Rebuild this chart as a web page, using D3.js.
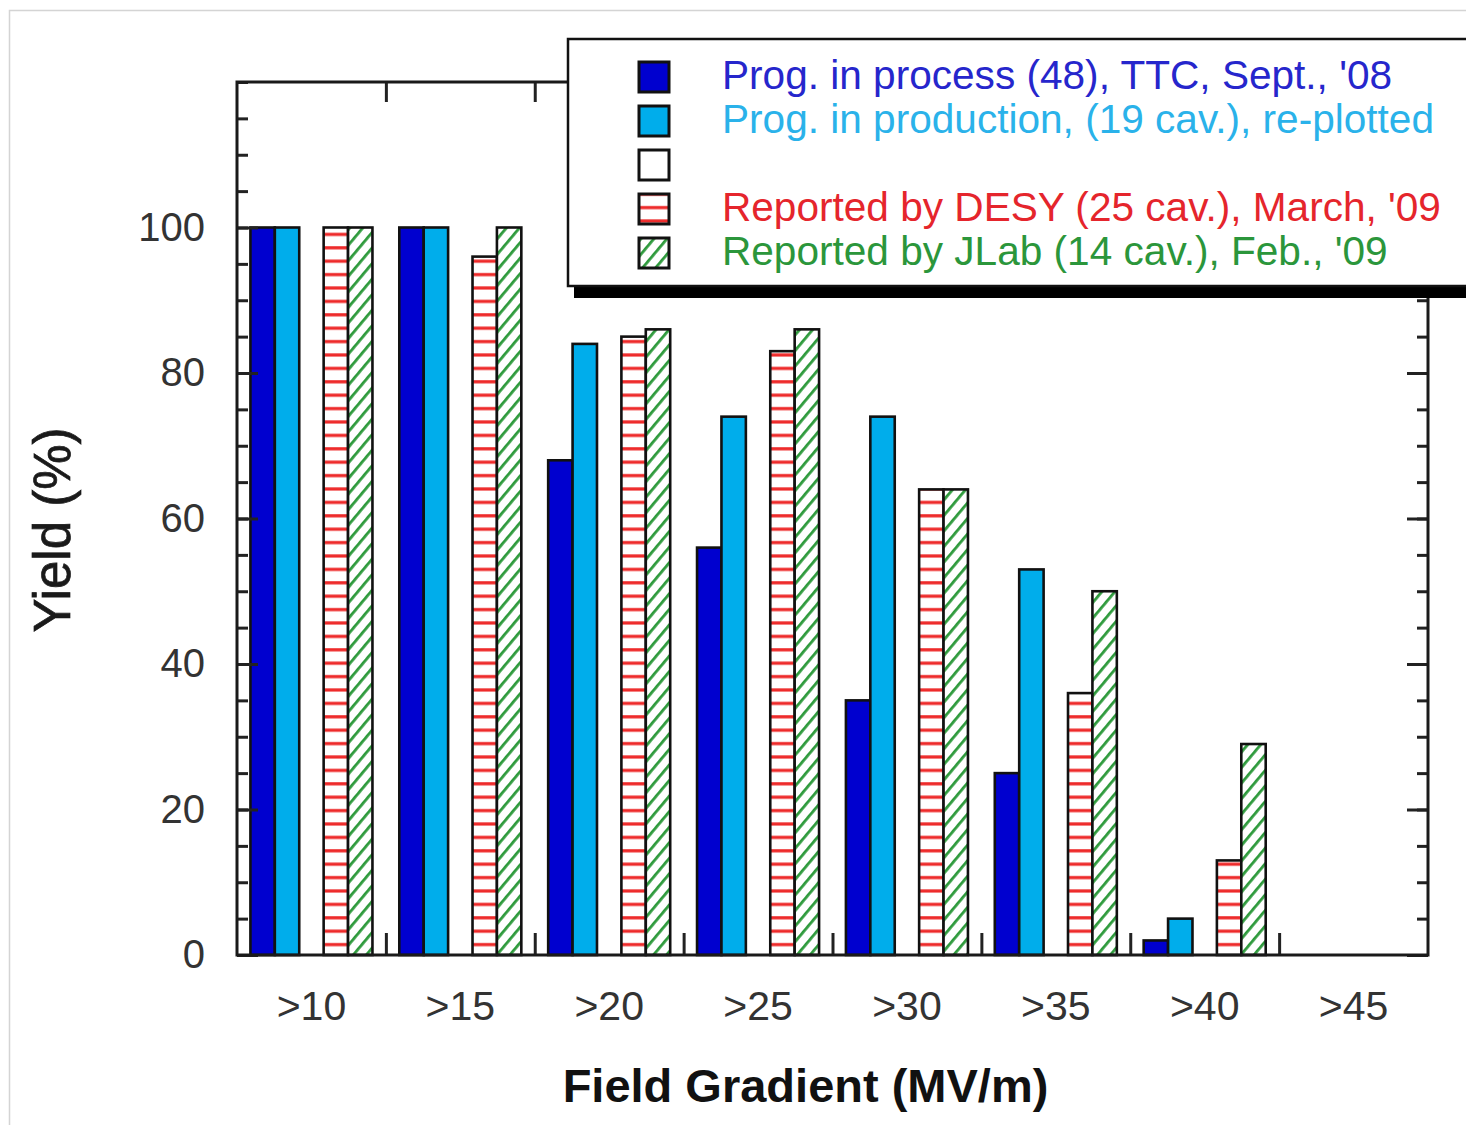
<!DOCTYPE html>
<html>
<head>
<meta charset="utf-8">
<script src="https://cdn.jsdelivr.net/npm/d3@7"></script>
<style>
  body { margin: 0; background: #ffffff; }
  svg { display: block; font-family: "Liberation Sans", Arial, Helvetica, sans-serif; }
</style>
</head>
<body>
<svg id="chart" width="1466" height="1125"></svg>
<script>
// categories and series values
const categories = [">10", ">15", ">20", ">25", ">30", ">35", ">40", ">45"];
const seriesKeys = ["process", "production", "blank", "desy", "jlab"];
const seriesLabels = [
    "Prog. in process (48), TTC, Sept., '08",
    "Prog. in production, (19 cav.), re-plotted",
    "",
    "Reported by DESY (25 cav.), March, '09",
    "Reported by JLab (14 cav.), Feb., '09"
];
const processYield = [100, 100, 68, 56, 35, 25, 2, 0];
const productionYield = [100, 100, 84, 74, 74, 53, 5, 0];
const blankYield = [0, 0, 0, 0, 0, 0, 0, 0];
const desyYield = [100, 96, 85, 83, 64, 36, 13, 0];
const jlabYield = [100, 100, 86, 86, 64, 50, 29, 0];
const yMajorTicks = [0, 20, 40, 60, 80, 100];

const svg = d3.select("#chart");
const plotLeft = 237, plotRight = 1428, plotTop = 82, plotBottom = 955;

const valuesBySeries = {
    process: processYield,
    production: productionYield,
    blank: blankYield,
    desy: desyYield,
    jlab: jlabYield
};
const fills = {
    process: "#0000cf",
    production: "#00adeb",
    blank: "#ffffff",
    desy: "url(#stripes)",
    jlab: "url(#hatch)"
};
const textColors = ["#2626cc", "#2ab2ea", "#000", "#e5252c", "#2b963b"];

// patterns
const defs = svg.append("defs");
let stripes = defs.append("pattern")
    .attr("id", "stripes")
    .attr("patternUnits", "userSpaceOnUse")
    .attr("width", 10).attr("height", 13.4);
stripes.append("rect").attr("width", 10).attr("height", 13.4).attr("fill", "#fff");
stripes.append("rect").attr("y", 5).attr("width", 10).attr("height", 3.2).attr("fill", "#ee2a2a");

let hatch = defs.append("pattern")
    .attr("id", "hatch")
    .attr("patternUnits", "userSpaceOnUse")
    .attr("width", 10).attr("height", 10)
    .attr("patternTransform", "rotate(40)");
hatch.append("rect").attr("width", 10).attr("height", 10).attr("fill", "#fff");
hatch.append("rect").attr("x", 3).attr("width", 2.8).attr("height", 10).attr("fill", "#2e9a3c");

// light frame of the slide
svg.append("rect")
    .attr("x", 9.5).attr("y", 10.5)
    .attr("width", 1500).attr("height", 1200)
    .attr("fill", "none").attr("stroke", "#d4d4d4").attr("stroke-width", 1.5);

// scales
let x = d3.scaleBand().domain(categories).range([plotLeft, plotRight]).padding(0);
let xs = d3.scaleBand().domain(seriesKeys).range([0, x.bandwidth()]).paddingInner(0).paddingOuter(0.55);
let y = d3.scaleLinear().domain([0, 120]).range([plotBottom, plotTop]);
let xb = d3.scaleLinear().domain([0, categories.length]).range([plotLeft, plotRight]);

// bars
const rows = [];
categories.forEach(function (c, i) {
    seriesKeys.forEach(function (k) {
        rows.push({ cat: c, key: k, value: valuesBySeries[k][i] });
    });
});

svg.append("g")
    .selectAll("rect")
    .data(rows.filter(function (d) { return d.value > 0; }))
    .enter()
    .append("rect")
    .attr("x", function (d) { return x(d.cat) + xs(d.key); })
    .attr("y", function (d) { return y(d.value); })
    .attr("width", xs.bandwidth())
    .attr("height", function (d) { return y(0) - y(d.value); })
    .attr("fill", function (d) { return fills[d.key]; })
    .attr("stroke", "#111")
    .attr("stroke-width", 2.6);

// axes
function styleAxis(g) {
    g.select(".domain").remove();
    g.selectAll(".tick line").attr("stroke", "#222").attr("stroke-width", 3);
}

svg.append("g")
    .attr("transform", `translate(${plotLeft},0)`)
    .call(d3.axisLeft(y).tickValues(d3.range(0, 121, 5)).tickSize(-11).tickFormat(""))
    .call(styleAxis);
svg.append("g")
    .attr("transform", `translate(${plotLeft},0)`)
    .call(d3.axisLeft(y).tickValues(yMajorTicks).tickSize(-21).tickPadding(32))
    .call(styleAxis)
    .selectAll("text")
    .attr("font-size", 40).attr("fill", "#333").attr("font-family", "Liberation Sans, Arial, sans-serif");

svg.append("g")
    .attr("transform", `translate(${plotRight},0)`)
    .call(d3.axisRight(y).tickValues(d3.range(0, 121, 5)).tickSize(-11).tickFormat(""))
    .call(styleAxis);
svg.append("g")
    .attr("transform", `translate(${plotRight},0)`)
    .call(d3.axisRight(y).tickValues(d3.range(0, 121, 20)).tickSize(-21).tickFormat(""))
    .call(styleAxis);

svg.append("g")
    .attr("transform", `translate(0,${plotBottom})`)
    .call(d3.axisBottom(xb).tickValues(d3.range(1, categories.length)).tickSize(-22).tickFormat(""))
    .call(styleAxis);
svg.append("g")
    .attr("transform", `translate(0,${plotTop})`)
    .call(d3.axisTop(xb).tickValues(d3.range(1, categories.length)).tickSize(-20).tickFormat(""))
    .call(styleAxis);

svg.append("g")
    .attr("transform", `translate(0,${plotBottom})`)
    .call(d3.axisBottom(x).tickSize(0).tickPadding(36))
    .call(function (g) { g.select(".domain").remove(); })
    .selectAll("text")
    .attr("font-size", 41).attr("fill", "#333").attr("font-family", "Liberation Sans, Arial, sans-serif");

// plot frame
svg.append("rect")
    .attr("x", plotLeft).attr("y", plotTop)
    .attr("width", plotRight - plotLeft).attr("height", plotBottom - plotTop)
    .attr("fill", "none").attr("stroke", "#1a1a1a").attr("stroke-width", 3);

// axis titles
svg.append("text")
    .attr("transform", `translate(70, 530) rotate(-90)`)
    .style("text-anchor", "middle")
    .attr("font-size", 51)
    .attr("fill", "#1a1a1a")
    .attr("stroke", "#1a1a1a").attr("stroke-width", 0.7)
    .text("Yield (%)");

svg.append("text")
    .attr("x", (plotLeft + plotRight) / 2 - 27)
    .attr("y", 1102)
    .style("text-anchor", "middle")
    .attr("font-size", 47)
    .attr("font-weight", "bold")
    .attr("fill", "#111")
    .text("Field Gradient (MV/m)");

// legend
let legend = svg.append("g");
legend.append("rect")
    .attr("x", 574).attr("y", 46)
    .attr("width", 950).attr("height", 252)
    .attr("fill", "#000");
legend.append("rect")
    .attr("x", 568).attr("y", 39)
    .attr("width", 950).attr("height", 247)
    .attr("fill", "#fff").attr("stroke", "#111").attr("stroke-width", 2.5);

seriesKeys.forEach(function (k, i) {
    let cy = 77 + i * 44;
    legend.append("rect")
        .attr("x", 639).attr("y", cy - 15)
        .attr("width", 30).attr("height", 30)
        .attr("fill", fills[k])
        .attr("stroke", "#111").attr("stroke-width", 3);
    if (seriesLabels[i]) {
        legend.append("text")
            .attr("x", 722).attr("y", cy + 12)
            .attr("font-size", 40.6)
            .attr("fill", textColors[i])
            .text(seriesLabels[i]);
    }
});
</script>
</body>
</html>
